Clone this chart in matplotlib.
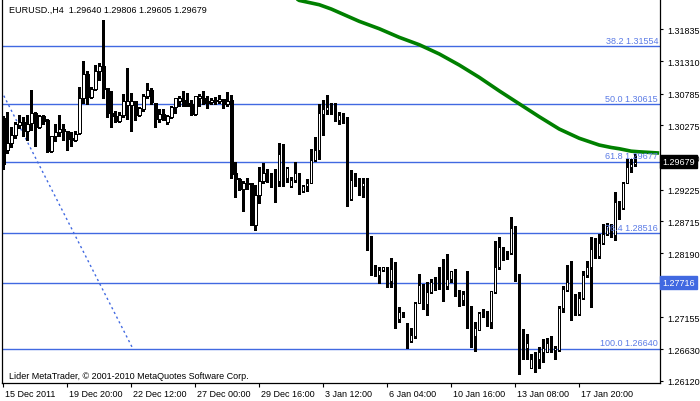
import matplotlib
matplotlib.use("Agg")
import matplotlib.pyplot as plt
import matplotlib.transforms as mtransforms

# MetaTrader EURUSD H4 chart: candles, moving average, fibo retracement

header = "EURUSD.,H4  1.29640 1.29806 1.29605 1.29679"
footer = "Lider MetaTrader, \u00a9 2001-2010 MetaQuotes Software Corp."

opens = [1.3039, 1.2987, 1.2998, 1.3011, 1.3028, 1.3033, 1.3018, 1.3030, 1.3047, 1.3025,
         1.3042, 1.3036, 1.2986, 1.3009, 1.3016, 1.3021, 1.3017, 1.3006, 1.3003, 1.3014,
         1.3072, 1.3110, 1.3073, 1.3086, 1.3115, 1.3123, 1.3088, 1.3047, 1.3042, 1.3034,
         1.3043, 1.3060, 1.3060, 1.3066, 1.3044, 1.3054, 1.3074, 1.3084, 1.3064, 1.3037,
         1.3045, 1.3033, 1.3041, 1.3056, 1.3066, 1.3068, 1.3063, 1.3062, 1.3045, 1.3071,
         1.3071, 1.3066, 1.3065, 1.3066, 1.3067, 1.3070, 1.3062, 1.3068, 1.2949, 1.2940,
         1.2924, 1.2934, 1.2933, 1.2865, 1.2913, 1.2936, 1.2950, 1.2943, 1.2941, 1.2936,
         1.2980, 1.2941, 1.2929, 1.2938, 1.2950, 1.2921, 1.2928, 1.2934, 1.2971, 1.2987,
         1.3045, 1.3052, 1.3057, 1.3055, 1.3036, 1.3042, 1.3037, 1.2908, 1.2938, 1.2930,
         1.2928, 1.2934, 1.2839, 1.2793, 1.2783, 1.2792, 1.2796, 1.2774, 1.2794, 1.2713,
         1.2723, 1.2695, 1.2677, 1.2685, 1.2739, 1.2768, 1.2736, 1.2756, 1.2771, 1.2768,
         1.2768, 1.2766, 1.2777, 1.2790, 1.2753, 1.2743, 1.2753, 1.2699, 1.2685, 1.2695,
         1.2722, 1.2718, 1.2707, 1.2756, 1.2796, 1.2829, 1.2821, 1.2819, 1.2860, 1.2784,
         1.2667, 1.2665, 1.2633, 1.2647, 1.2647, 1.2658, 1.2659, 1.2673, 1.2662, 1.2662,
         1.2730, 1.2760, 1.2772, 1.2737, 1.2721, 1.2746, 1.2783, 1.2797, 1.2827, 1.2815,
         1.2836, 1.2850, 1.2863, 1.2848, 1.2902, 1.2892, 1.2934, 1.2960, 1.29640]
highs = [1.3042, 1.3049, 1.3025, 1.3032, 1.3043, 1.3040, 1.3043, 1.3084, 1.3048, 1.3044,
         1.3043, 1.3037, 1.3010, 1.3029, 1.3044, 1.3029, 1.3018, 1.3016, 1.3017, 1.3090,
         1.3132, 1.3116, 1.3089, 1.3125, 1.3128, 1.3198, 1.3088, 1.3083, 1.3051, 1.3048,
         1.3078, 1.3120, 1.3080, 1.3066, 1.3056, 1.3078, 1.3095, 1.3088, 1.3064, 1.3054,
         1.3054, 1.3043, 1.3059, 1.3072, 1.3074, 1.3082, 1.3080, 1.3068, 1.3075, 1.3078,
         1.3082, 1.3074, 1.3072, 1.3073, 1.3076, 1.3070, 1.3081, 1.3076, 1.2968, 1.2942,
         1.2937, 1.2942, 1.2933, 1.2930, 1.2959, 1.2965, 1.2956, 1.2950, 1.2956, 1.2998,
         1.2997, 1.2959, 1.2943, 1.2968, 1.2950, 1.2930, 1.2940, 1.2989, 1.3008, 1.3062,
         1.3068, 1.3076, 1.3063, 1.3063, 1.3049, 1.3047, 1.3040, 1.2954, 1.2950, 1.2942,
         1.2941, 1.2942, 1.2847, 1.2800, 1.2797, 1.2797, 1.2796, 1.2812, 1.2805, 1.2732,
         1.2723, 1.2706, 1.2697, 1.2740, 1.2785, 1.2769, 1.2773, 1.2777, 1.2780, 1.2797,
         1.2810, 1.2818, 1.2791, 1.2793, 1.2760, 1.2758, 1.2790, 1.2734, 1.2708, 1.2723,
         1.2729, 1.2726, 1.2758, 1.2839, 1.2845, 1.2830, 1.2823, 1.2878, 1.2863, 1.2785,
         1.2696, 1.2688, 1.2655, 1.2658, 1.2666, 1.2680, 1.2681, 1.2685, 1.2669, 1.2734,
         1.2766, 1.2800, 1.2806, 1.2753, 1.2756, 1.2791, 1.2806, 1.2845, 1.2844, 1.2850,
         1.2867, 1.2869, 1.2867, 1.2918, 1.2904, 1.2935, 1.2972, 1.2972, 1.29806]
lows = [1.2956, 1.2982, 1.2991, 1.3006, 1.3023, 1.3009, 1.3003, 1.3020, 1.2994, 1.3023,
        1.3029, 1.2983, 1.2984, 1.3002, 1.3009, 1.3003, 1.2987, 1.2994, 1.3001, 1.3013,
        1.3063, 1.3062, 1.3071, 1.3084, 1.3101, 1.3072, 1.3041, 1.3025, 1.3033, 1.3033,
        1.3041, 1.3037, 1.3017, 1.3036, 1.3042, 1.3051, 1.3072, 1.3062, 1.3025, 1.3033,
        1.3036, 1.3029, 1.3039, 1.3047, 1.3058, 1.3058, 1.3058, 1.3043, 1.3043, 1.3059,
        1.3062, 1.3055, 1.3061, 1.3062, 1.3064, 1.3055, 1.3058, 1.2941, 1.2911, 1.2922,
        1.2887, 1.2924, 1.2865, 1.2857, 1.2901, 1.2934, 1.2935, 1.2927, 1.2903, 1.2929,
        1.2929, 1.2935, 1.2926, 1.2935, 1.2915, 1.2919, 1.2921, 1.2933, 1.2969, 1.2972,
        1.3012, 1.3045, 1.3045, 1.3034, 1.3029, 1.3031, 1.2896, 1.2906, 1.2928, 1.2913,
        1.2910, 1.2825, 1.2783, 1.2782, 1.2770, 1.2791, 1.2764, 1.2765, 1.2697, 1.2707,
        1.2715, 1.2665, 1.2675, 1.2682, 1.2738, 1.2728, 1.2719, 1.2754, 1.2760, 1.2761,
        1.2742, 1.2761, 1.2773, 1.2749, 1.2734, 1.2735, 1.2697, 1.2667, 1.2661, 1.2695,
        1.2716, 1.2701, 1.2698, 1.2754, 1.2794, 1.2808, 1.2810, 1.2818, 1.2774, 1.2623,
        1.2647, 1.2647, 1.2632, 1.2626, 1.2632, 1.2643, 1.2658, 1.2658, 1.2647, 1.2661,
        1.2723, 1.2758, 1.2711, 1.2718, 1.2718, 1.2745, 1.2780, 1.2732, 1.2811, 1.2812,
        1.2834, 1.2849, 1.2845, 1.2840, 1.2875, 1.2891, 1.2933, 1.2951, 1.29605]
closes = [1.2964, 1.2998, 1.3011, 1.3029, 1.3033, 1.3018, 1.3029, 1.3047, 1.3025, 1.3042,
          1.3034, 1.2986, 1.3009, 1.3016, 1.3021, 1.3017, 1.3005, 1.3003, 1.3013, 1.3072,
          1.3110, 1.3073, 1.3086, 1.3115, 1.3123, 1.3086, 1.3047, 1.3042, 1.3034, 1.3044,
          1.3066, 1.3066, 1.3066, 1.3044, 1.3055, 1.3075, 1.3084, 1.3065, 1.3038, 1.3045,
          1.3036, 1.3042, 1.3056, 1.3071, 1.3071, 1.3059, 1.3059, 1.3045, 1.3074, 1.3074,
          1.3063, 1.3063, 1.3068, 1.3068, 1.3070, 1.3062, 1.3067, 1.2948, 1.2939, 1.2924,
          1.2933, 1.2932, 1.2865, 1.2914, 1.2936, 1.2950, 1.2941, 1.2941, 1.2936, 1.2980,
          1.2941, 1.2957, 1.2938, 1.2949, 1.2918, 1.2929, 1.2934, 1.2971, 1.2987, 1.3047,
          1.3054, 1.3057, 1.3052, 1.3040, 1.3044, 1.3034, 1.2908, 1.2938, 1.2929, 1.2928,
          1.2934, 1.2838, 1.2792, 1.2783, 1.2792, 1.2796, 1.2774, 1.2793, 1.2712, 1.2723,
          1.2715, 1.2677, 1.2686, 1.2739, 1.2768, 1.2736, 1.2756, 1.2772, 1.2766, 1.2765,
          1.2765, 1.2777, 1.2790, 1.2751, 1.2743, 1.2753, 1.2699, 1.2685, 1.2697, 1.2722,
          1.2717, 1.2707, 1.2757, 1.2796, 1.2829, 1.2821, 1.2819, 1.2860, 1.2783, 1.2664,
          1.2664, 1.2674, 1.2647, 1.2649, 1.2658, 1.2665, 1.2673, 1.2662, 1.2665, 1.2730,
          1.2761, 1.2772, 1.2736, 1.2720, 1.2746, 1.2784, 1.2797, 1.2826, 1.2814, 1.2836,
          1.2850, 1.2863, 1.2848, 1.2902, 1.2892, 1.2934, 1.2960, 1.2964, 1.29679]

# bar index where each time label sits (every 16 bars)
xtick_pos = [0, 16, 32, 48, 64, 80, 96, 112, 128, 144]
xtick_labels = ["15 Dec 2011", "19 Dec 20:00", "22 Dec 12:00", "27 Dec 00:00",
                "29 Dec 16:00", "3 Jan 12:00", "6 Jan 04:00", "10 Jan 16:00",
                "13 Jan 08:00", "17 Jan 20:00"]
ytick_vals = [1.31835, 1.31310, 1.30785, 1.30275, 1.29750, 1.29225,
              1.28715, 1.28190, 1.27155, 1.26630, 1.26120]

fib_pct = ["38.2", "50.0", "61.8", "76.4", "100.0"]
fib_levels = [1.31554, 1.30615, 1.29677, 1.28516, 1.26640]
hline_level = 1.27716
last_close = 1.29679

# fibo trend line anchors (starts off-chart at the swing high)
fib_trend_x = [-30.0, 32.4]
fib_trend_y = [1.3459, 1.2664]

# moving average
ma_x = [73, 74, 79, 82, 89, 94, 99, 104, 109, 114, 119, 124, 129, 134, 139,
        144, 149, 152, 154, 157, 159, 164]
ma_y = [1.3234, 1.3230, 1.3223, 1.3216, 1.3196, 1.3184, 1.3170, 1.3158, 1.3143,
        1.3125, 1.3105, 1.3083, 1.3062, 1.3041, 1.3021, 1.3006, 1.2995, 1.2991,
        1.2989, 1.2985, 1.2984, 1.2982]

BLUE = "#4169E1"
FIBTXT = "#5b7be6"

plt.rcParams["font.family"] = ["Liberation Sans", "DejaVu Sans"]
plt.rcParams["font.size"] = 6.5

fig = plt.figure(figsize=(7.0, 4.02), dpi=100)
ax = fig.add_axes([2.3 / 700, 18.5 / 402, 657.7 / 700, 383.5 / 402])

n = len(opens)
idx = list(range(n))

# levels and trend line (behind candles)
for lv in fib_levels + [hline_level]:
    ax.axhline(lv, color=BLUE, lw=1.0, zorder=1)
ax.plot(fib_trend_x, fib_trend_y, color=BLUE, lw=1.0, ls=(0, (1.6, 2.2)), zorder=1)

# candles
ax.vlines(idx, lows, highs, color="black", lw=0.75, zorder=2, antialiased=False)
bottoms = [min(o, c) for o, c in zip(opens, closes)]
heights = [abs(c - o) for o, c in zip(opens, closes)]
faces = ["white" if c >= o else "black" for o, c in zip(opens, closes)]
ax.bar(idx, heights, bottom=bottoms, width=0.62, color=faces, edgecolor="black",
       linewidth=0.7, zorder=3, antialiased=False)

# moving average
ax.plot(ma_x, ma_y, color="#008000", lw=2.6, solid_capstyle="butt",
        solid_joinstyle="round", zorder=4)

ax.set_xlim(-0.25, 164.2)
ax.set_ylim(1.26091, 1.32323)

# fibo labels
off = mtransforms.ScaledTranslation(0, 1.5 / 100, fig.dpi_scale_trans)
for pct, lv in zip(fib_pct, fib_levels):
    ax.text(0.997, lv, f"{pct} {lv:.5f}", color=FIBTXT, ha="right", va="bottom",
            transform=ax.get_yaxis_transform() + off, zorder=6)

# axes styling
for s in ["left", "right", "bottom"]:
    ax.spines[s].set_linewidth(0.9)
    ax.spines[s].set_color("black")
ax.spines["top"].set_visible(False)

ax.yaxis.tick_right()
ax.set_yticks(ytick_vals)
ax.set_yticklabels([f"{v:.5f}" for v in ytick_vals])
ax.tick_params(axis="y", direction="out", length=2.5, width=0.8, pad=2.5, colors="black")

ax.set_xticks(xtick_pos)
ax.set_xticklabels(xtick_labels)
ax.tick_params(axis="x", direction="out", length=3.0, width=0.8, pad=1.5, colors="black")
shift = mtransforms.ScaledTranslation(1.5 / 100, 0, fig.dpi_scale_trans)
for lab in ax.get_xticklabels():
    lab.set_horizontalalignment("left")
    lab.set_transform(lab.get_transform() + shift)

# price tags on the right scale
tag = ax.get_yaxis_transform()
ax.text(1.0035, last_close, f"{last_close:.5f}", color="white", ha="left", va="center",
        transform=tag, clip_on=False, zorder=10,
        bbox=dict(boxstyle="square,pad=0.25", fc="black", ec="black"))
ax.text(1.0035, hline_level, f"{hline_level:.5f}", color="white", ha="left", va="center",
        transform=tag, clip_on=False, zorder=10,
        bbox=dict(boxstyle="square,pad=0.25", fc=BLUE, ec=BLUE))

# header and copyright
ax.text(6.5 / 657.7, 1 - 10.5 / 383.5, header, ha="left", va="center",
        transform=ax.transAxes, zorder=7)
ax.text(6.5 / 657.7, 6.5 / 383.5, footer, ha="left", va="center",
        transform=ax.transAxes, zorder=7)

fig.savefig("out.png", dpi=100, facecolor="white")
